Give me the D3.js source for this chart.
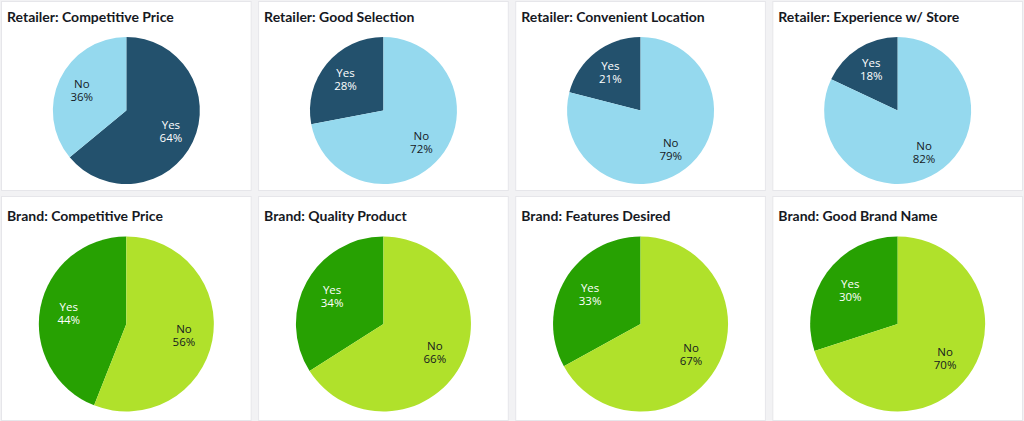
<!DOCTYPE html>
<html>
<head>
<meta charset="utf-8">
<script src="https://cdn.jsdelivr.net/npm/d3@7"></script>
<style>
  body { margin: 0; background: #f2f2f4; }
  svg { display: block; }
</style>
</head>
<body>
<svg id="chart" width="1024" height="421"></svg>
<script>
// retailer row
var retailerTitles = ["Retailer: Competitive Price", "Retailer: Good Selection", "Retailer: Convenient Location", "Retailer: Experience w/ Store"];
var retailerYes = [64, 28, 21, 18];
var retailerNo = [36, 72, 79, 82];

// brand row
var brandTitles = ["Brand: Competitive Price", "Brand: Quality Product", "Brand: Features Desired", "Brand: Good Brand Name"];
var brandYes = [44, 34, 33, 30];
var brandNo = [56, 66, 67, 70];

var answers = ["Yes", "No"];

var rows = [
  { titles: retailerTitles, yes: retailerYes, no: retailerNo, y: 1, h: 189, cy: 110.5, r: 73.5, titleY: 22,
    colors: ["#23516d", "#95d9ee"], textColors: ["#ffffff", "#16191f"] },
  { titles: brandTitles, yes: brandYes, no: brandNo, y: 196, h: 224, cy: 324, r: 87.5, titleY: 221,
    colors: ["#27a102", "#b0e12b"], textColors: ["#ffffff", "#16191f"] }
];

var svg = d3.select("#chart");
var panelX = d3.scaleBand().domain(d3.range(4)).range([1, 1023]).paddingInner(0.025);

var pie = d3.pie().value(function(d) { return d.value; });

rows.forEach(function(row) {
  row.titles.forEach(function(title, i) {
    var x0 = panelX(i);
    var g = svg.append("g").attr("transform", "translate(" + x0 + "," + row.y + ")");
    g.append("rect")
      .attr("x", 0.5).attr("y", 0.5)
      .attr("width", panelX.bandwidth() - 1).attr("height", row.h)
      .attr("fill", "#ffffff")
      .attr("stroke", "#e6e6ea");
    g.append("text")
      .attr("x", 6).attr("y", row.titleY - row.y)
      .attr("font-family", "Lato, sans-serif")
      .attr("font-weight", "bold")
      .attr("font-size", "14px")
      .attr("fill", "#16191f")
      .text(title);

    var data = [
      { key: answers[0], value: row.yes[i], color: row.colors[0], text: row.textColors[0] },
      { key: answers[1], value: row.no[i], color: row.colors[1], text: row.textColors[1] }
    ];
    var arc = d3.arc().innerRadius(0).outerRadius(row.r);
    var labelArc = d3.arc().innerRadius(row.r * 0.67).outerRadius(row.r * 0.67);

    var pg = g.append("g").attr("transform", "translate(" + (panelX.bandwidth() / 2) + "," + (row.cy - row.y) + ")");
    var arcs = pie(data);
    pg.selectAll("path").data(arcs).enter().append("path")
      .attr("d", arc)
      .attr("fill", function(d) { return d.data.color; });

    // two-line label: answer, then percent
    pg.selectAll("text.key").data(arcs).enter().append("text")
      .attr("class", "key")
      .attr("transform", function(d) { return "translate(" + labelArc.centroid(d) + ")"; })
      .attr("y", -2)
      .attr("text-anchor", "middle")
      .attr("font-family", "'Open Sans', sans-serif")
      .attr("font-size", "11.5px")
      .attr("fill", function(d) { return d.data.text; })
      .text(function(d) { return d.data.key; });
    pg.selectAll("text.pct").data(arcs).enter().append("text")
      .attr("class", "pct")
      .attr("transform", function(d) { return "translate(" + labelArc.centroid(d) + ")"; })
      .attr("y", 11)
      .attr("text-anchor", "middle")
      .attr("font-family", "'Open Sans', sans-serif")
      .attr("font-size", "11.5px")
      .attr("fill", function(d) { return d.data.text; })
      .text(function(d) { return d.data.value + "%"; });
  });
});
</script>
</body>
</html>
